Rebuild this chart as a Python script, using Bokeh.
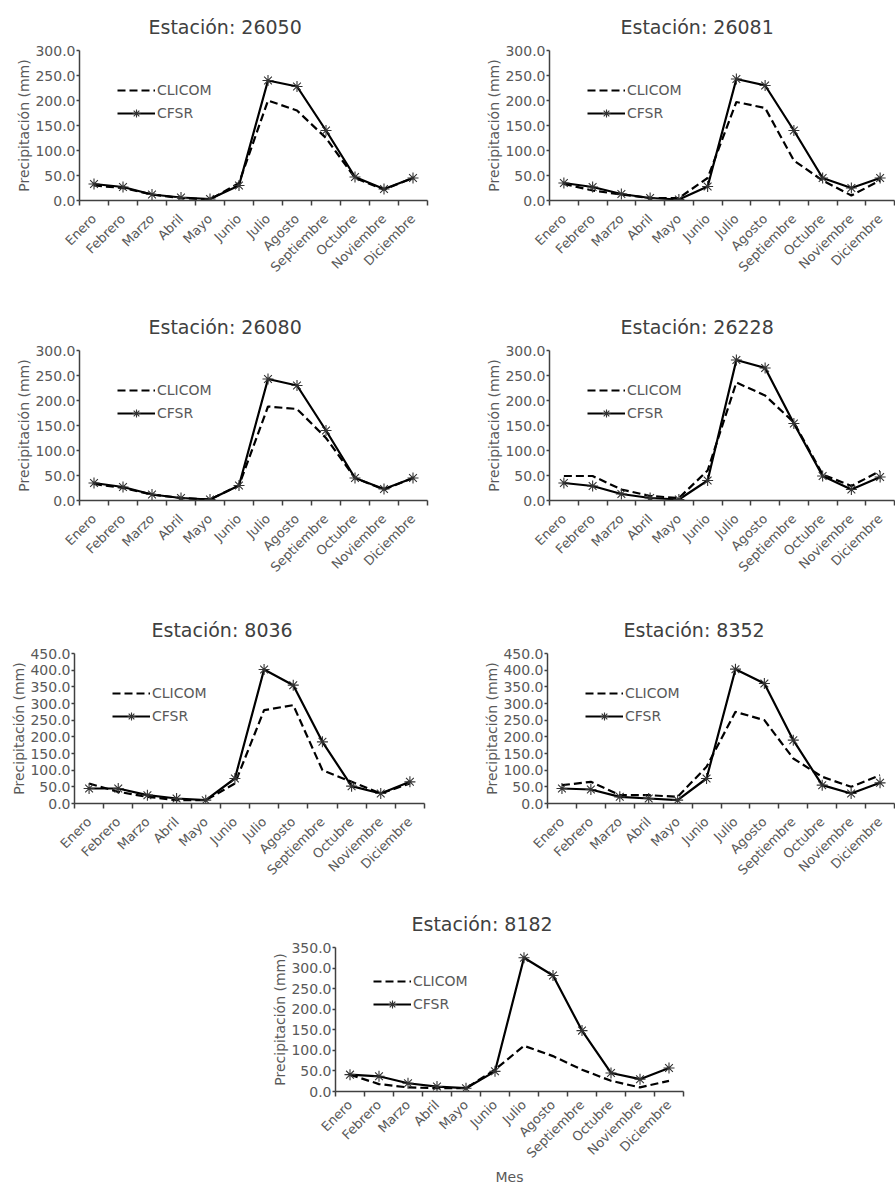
from bokeh.plotting import figure
from bokeh.models import Range1d, FixedTicker, NumeralTickFormatter, CustomJSTickFormatter, Spacer
from bokeh.layouts import row, column
from bokeh.embed import file_html
from bokeh.resources import INLINE

months = ["Enero", "Febrero", "Marzo", "Abril", "Mayo", "Junio", "Julio",
          "Agosto", "Septiembre", "Octubre", "Noviembre", "Diciembre"]

clicom_26050 = [30, 25, 12, 5, 2, 35, 200, 180, 125, 45, 22, 45]
cfsr_26050 = [33, 27, 12, 6, 3, 30, 240, 228, 140, 47, 23, 45]

clicom_26081 = [33, 20, 12, 5, 5, 45, 197, 185, 80, 40, 10, 40]
cfsr_26081 = [35, 27, 13, 5, 2, 28, 243, 230, 140, 45, 25, 45]

clicom_26080 = [33, 25, 12, 5, 2, 30, 188, 183, 125, 45, 22, 45]
cfsr_26080 = [35, 27, 12, 5, 2, 30, 243, 230, 140, 45, 23, 45]

clicom_26228 = [49, 49, 22, 9, 5, 60, 236, 210, 156, 52, 29, 59]
cfsr_26228 = [35, 29, 13, 5, 2, 40, 281, 265, 154, 49, 22, 47]

clicom_8036 = [60, 35, 20, 10, 10, 60, 280, 295, 100, 65, 30, 60]
cfsr_8036 = [45, 45, 25, 15, 10, 75, 402, 355, 185, 52, 30, 65]

clicom_8352 = [55, 65, 25, 25, 20, 110, 275, 250, 135, 80, 50, 85]
cfsr_8352 = [45, 42, 20, 15, 10, 75, 403, 360, 190, 55, 30, 62]

clicom_8182 = [41, 18, 10, 8, 8, 53, 111, 86, 53, 26, 10, 26]
cfsr_8182 = [41, 37, 20, 12, 8, 49, 325, 282, 148, 45, 30, 57]

FONT = "DejaVu Sans"
TXT = "#595959"
AX = "#404040"

xpos = [i + 0.5 for i in range(len(months))]


def make(title, clicom, cfsr, ymax, width, height, bl, br, bt, bb, toff,
         xlabel=None, xstand=11):
    p = figure(width=width, height=height, x_range=Range1d(0, len(months)),
               y_range=Range1d(0, ymax), output_backend="svg", toolbar_location=None,
               min_border_left=bl, min_border_right=br, min_border_top=bt,
               min_border_bottom=bb, title=title)
    p.outline_line_color = None
    p.xgrid.visible = False
    p.ygrid.visible = False
    p.background_fill_color = "white"
    p.border_fill_color = "white"

    p.title.align = "left"
    p.title.offset = toff
    p.title.standoff = 26
    p.title.text_font = FONT
    p.title.text_font_size = "19px"
    p.title.text_font_style = "normal"
    p.title.text_color = "#404040"

    p.line(xpos, clicom, line_color="black", line_width=2.2, line_dash="8 4",
           legend_label="CLICOM")
    p.line(xpos, cfsr, line_color="black", line_width=2.2, legend_label="CFSR")
    p.scatter(xpos, cfsr, marker="asterisk", size=11, line_color="#333333",
              line_width=1.1, legend_label="CFSR")

    xa = p.xaxis[0]
    xa.ticker = FixedTicker(ticks=xpos, minor_ticks=list(range(len(months) + 1)))
    xa.formatter = CustomJSTickFormatter(args=dict(labels=months),
                                         code="return labels[Math.floor(tick)];")
    xa.major_tick_out = 0
    xa.major_tick_in = 0
    xa.minor_tick_out = 5
    xa.minor_tick_in = 0
    xa.minor_tick_line_color = AX
    xa.minor_tick_line_width = 1.5
    xa.major_label_orientation = 0.785398
    xa.major_label_text_font = FONT
    xa.major_label_text_font_size = "13px"
    xa.major_label_text_color = TXT
    xa.major_label_standoff = xstand
    xa.axis_line_color = AX
    xa.axis_line_width = 1.5
    if xlabel:
        xa.axis_label = xlabel
        xa.axis_label_text_font = FONT
        xa.axis_label_text_font_size = "14px"
        xa.axis_label_text_font_style = "normal"
        xa.axis_label_text_color = TXT
        xa.axis_label_standoff = 0

    ya = p.yaxis[0]
    ya.ticker = FixedTicker(ticks=list(range(0, ymax + 1, 50)))
    ya.formatter = NumeralTickFormatter(format="0.0")
    ya.major_tick_out = 3
    ya.major_tick_in = 0
    ya.minor_tick_out = 0
    ya.minor_tick_in = 0
    ya.major_tick_line_color = AX
    ya.major_tick_line_width = 1.5
    ya.axis_line_color = AX
    ya.axis_line_width = 1.5
    ya.major_label_text_font = FONT
    ya.major_label_text_font_size = "14px"
    ya.major_label_text_color = TXT
    ya.major_label_standoff = 1
    ya.axis_label = "Precipitación (mm)"
    ya.axis_label_text_font = FONT
    ya.axis_label_text_font_size = "14px"
    ya.axis_label_text_font_style = "normal"
    ya.axis_label_text_color = TXT
    ya.axis_label_standoff = 0

    lg = p.legend[0]
    lg.location = (38, 77)
    lg.border_line_alpha = 0
    lg.background_fill_alpha = 0
    lg.padding = 0
    lg.margin = 0
    lg.spacing = 3
    lg.glyph_width = 38
    lg.glyph_height = 20
    lg.label_height = 20
    lg.label_standoff = 2
    lg.label_text_font = FONT
    lg.label_text_font_size = "14px"
    lg.label_text_color = TXT
    return p


p1 = make("Estación: 26050", clicom_26050, cfsr_26050, 300, 440, 300, 79, 13, 50, 100, 69)
p2 = make("Estación: 26081", clicom_26081, cfsr_26081, 300, 455, 300, 109, 1, 50, 100, 71)
p3 = make("Estación: 26080", clicom_26080, cfsr_26080, 300, 440, 300, 79, 13, 50, 100, 69)
p4 = make("Estación: 26228", clicom_26228, cfsr_26228, 300, 455, 300, 109, 1, 50, 100, 71)
p5 = make("Estación: 8036", clicom_8036, cfsr_8036, 450, 440, 297, 74, 16, 53, 94, 77)
p6 = make("Estación: 8352", clicom_8352, cfsr_8352, 450, 455, 297, 107, 1, 53, 94, 76)
p7 = make("Estación: 8182", clicom_8182, cfsr_8182, 350, 440, 291, 71, 21, 49, 92, 76,
          xlabel="Mes", xstand=6)

layout = column(row(p1, p2), row(p3, p4), row(p5, p6), row(Spacer(width=264, height=291), p7))

open("out.html", "w").write(file_html(layout, INLINE))
